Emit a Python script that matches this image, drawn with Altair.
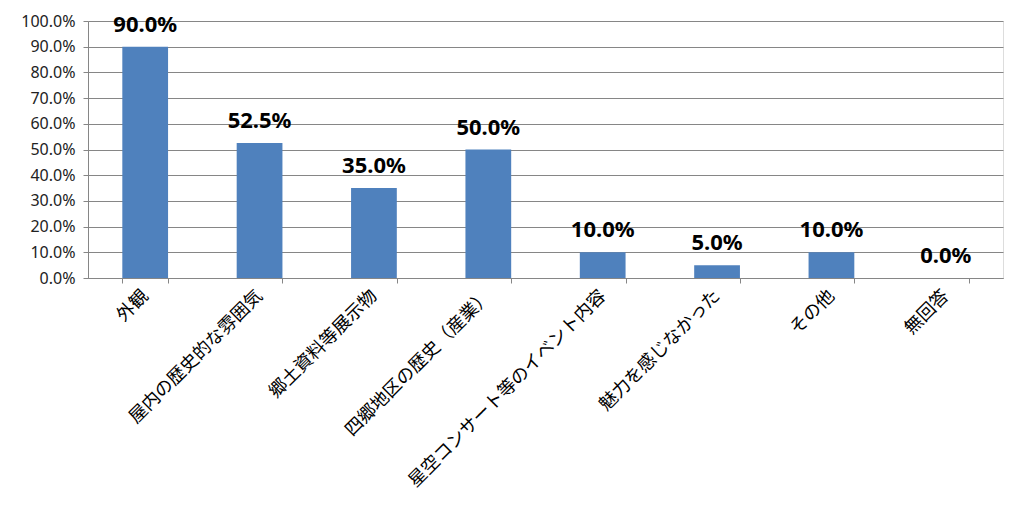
import altair as alt
import pandas as pd

categories = ["外観", "屋内の歴史的な雰囲気", "郷土資料等展示物", "四郷地区の歴史（産業）",
              "星空コンサート等のイベント内容", "魅力を感じなかった", "その他", "無回答"]
values = [0.90, 0.525, 0.35, 0.50, 0.10, 0.05, 0.10, 0.0]
y_ticks = [0.0, 0.1, 0.2, 0.3, 0.4, 0.5, 0.6, 0.7, 0.8, 0.9, 1.0]

df = pd.DataFrame({"cat": categories, "val": values})

x = alt.X("cat:N", sort=categories, title=None,
          scale=alt.Scale(paddingInner=0.6, paddingOuter=0.3),
          axis=alt.Axis(labelAngle=-45, labelAlign="right", labelBaseline="middle",
                        labelFont="Noto Sans CJK JP", labelFontSize=18, labelColor="#000000",
                        labelPadding=10, tickBand="extent", tickSize=5,
                        tickColor="#868686", domainColor="#868686", grid=False,
                        labelLimit=400, labelOverlap=False))
y = alt.Y("val:Q", title=None,
          scale=alt.Scale(domain=[0, 1], nice=False),
          axis=alt.Axis(values=y_ticks, tickCount=11, format=".1%", labelFont="Noto Sans",
                        labelFontSize=16, labelColor="#222222", tickSize=5,
                        tickColor="#868686", domainColor="#868686", gridColor="#868686",
                        gridOpacity=1, labelPadding=8, labelOverlap=False,
                        labelFlush=False))

bars = alt.Chart(df).mark_bar(color="#4F81BD").encode(x=x, y=y)
text = alt.Chart(df).mark_text(baseline="bottom", dy=-10, fontSize=22, fontWeight="bold",
                               font="Noto Sans", color="#000000").encode(
    x=alt.X("cat:N", sort=categories), y="val:Q", text=alt.Text("val:Q", format=".1%"))

chart = (bars + text).properties(
    width=915, height=257,
    autosize=alt.AutoSizeParams(type="none"),
    padding={"left": 80, "top": 13, "right": 13, "bottom": 219},
).configure_view(stroke=None).configure(background="white")

chart.save("out.html", embed_options={"renderer": "svg", "actions": False})
